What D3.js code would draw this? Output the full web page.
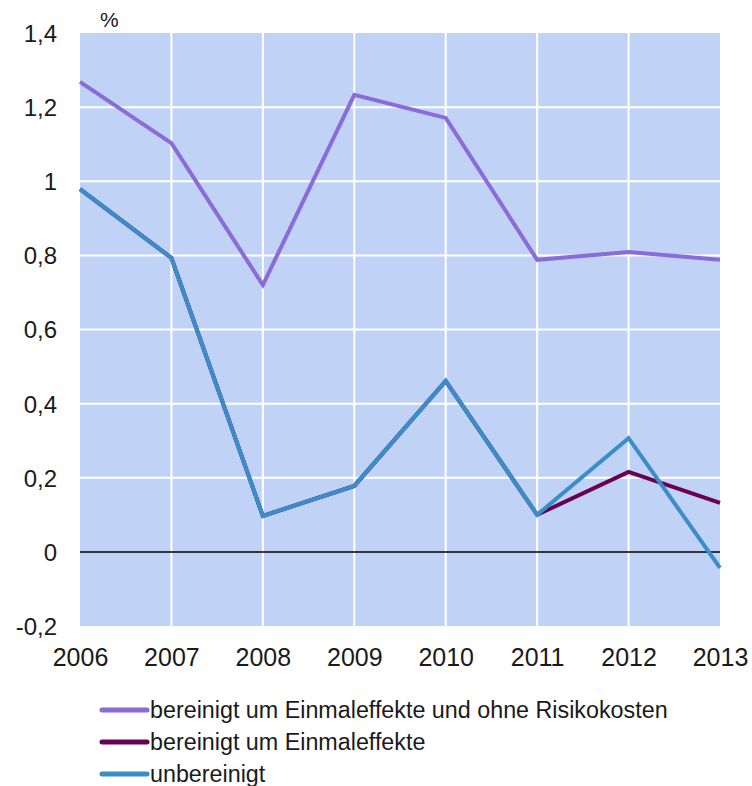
<!DOCTYPE html>
<html>
<head>
<meta charset="utf-8">
<script src="https://cdn.jsdelivr.net/npm/d3@7"></script>
<style>
  body { margin: 0; background: #fff; }
  text { font-family: "Liberation Sans", Arial, sans-serif; fill: #1a1a1a; }
</style>
</head>
<body>
<div id="chart"></div>
<script>
// chart values
var years = [2006, 2007, 2008, 2009, 2010, 2011, 2012, 2013];
var ohneRisiko = [1.268, 1.103, 0.72, 1.233, 1.171, 0.788, 0.809, 0.788];
var einmal = [0.979, 0.793, 0.097, 0.178, 0.461, 0.1, 0.216, 0.132];
var unbereinigt = [0.979, 0.793, 0.097, 0.178, 0.461, 0.1, 0.307, -0.043];
var yTicks = [-0.2, 0, 0.2, 0.4, 0.6, 0.8, 1, 1.2, 1.4];
var seriesNames = ["bereinigt um Einmaleffekte und ohne Risikokosten", "bereinigt um Einmaleffekte", "unbereinigt"];
var seriesColors = ["#8a6bd8", "#6a0052", "#3a8dc8"];

var width = 752, height = 786;
var margin = {left: 80, right: 32, top: 33, bottom: 160};
var w = width - margin.left - margin.right;
var h = height - margin.top - margin.bottom;

var svg = d3.select("#chart").append("svg")
            .attr("width", width)
            .attr("height", height);

var g = svg.append("g")
           .attr("transform", "translate(" + margin.left + "," + margin.top + ")");

var x = d3.scaleLinear().domain([2006, 2013]).range([0, w]);
var y = d3.scaleLinear().domain([-0.2, 1.4]).range([h, 0]);

// plot background
g.append("rect")
 .attr("width", w).attr("height", h)
 .attr("fill", "#c0d3f7");

// grid lines
g.append("g").selectAll("line").data(years.slice(1, -1)).enter()
 .append("line")
 .attr("x1", d => x(d)).attr("x2", d => x(d))
 .attr("y1", 0).attr("y2", h)
 .attr("stroke", "#fff").attr("stroke-width", 2);

g.append("g").selectAll("line").data(yTicks.filter(d => d != 0 && d != -0.2 && d != 1.4)).enter()
 .append("line")
 .attr("x1", 0).attr("x2", w)
 .attr("y1", d => y(d)).attr("y2", d => y(d))
 .attr("stroke", "#fff").attr("stroke-width", 2);

// zero line
g.append("line")
 .attr("x1", 0).attr("x2", w)
 .attr("y1", y(0)).attr("y2", y(0))
 .attr("stroke", "#000").attr("stroke-width", 1.5);

// axes (german decimal comma, plain hyphen for minus)
var fmt = d => String(d).replace(".", ",");
var yAxis = g.append("g")
             .call(d3.axisLeft(y).tickValues(yTicks).tickFormat(fmt).tickSize(0).tickPadding(23));
yAxis.select(".domain").remove();
yAxis.selectAll("text").style("font-size", "24px").attr("dy", "0.35em");

var xAxis = g.append("g")
             .attr("transform", "translate(0," + h + ")")
             .call(d3.axisBottom(x).tickValues(years).tickFormat(d3.format("d")).tickSize(0).tickPadding(22));
xAxis.select(".domain").remove();
xAxis.selectAll("text").style("font-size", "25px");

g.append("text")
 .attr("x", 20).attr("y", -6)
 .style("font-size", "21px")
 .text("%");

// lines
var line = d3.line()
             .x((d, i) => x(years[i]))
             .y(d => y(d));

[ohneRisiko, einmal, unbereinigt].forEach(function(s, i){
    g.append("path")
     .datum(s)
     .attr("d", line)
     .attr("fill", "none")
     .attr("stroke", seriesColors[i])
     .attr("stroke-width", 4)
     .attr("stroke-linejoin", "miter");
});

// legend
var legend = svg.append("g").attr("transform", "translate(102,710)");
seriesNames.forEach(function(name, i){
    var row = legend.append("g").attr("transform", "translate(0," + (i * 32) + ")");
    row.append("line")
       .attr("x1", 0).attr("x2", 45)
       .attr("stroke", seriesColors[i])
       .attr("stroke-width", 5)
       .attr("stroke-linecap", "round");
    row.append("text")
       .attr("x", 48).attr("dy", "0.35em")
       .style("font-size", "23.3px")
       .text(name);
});
</script>
</body>
</html>
